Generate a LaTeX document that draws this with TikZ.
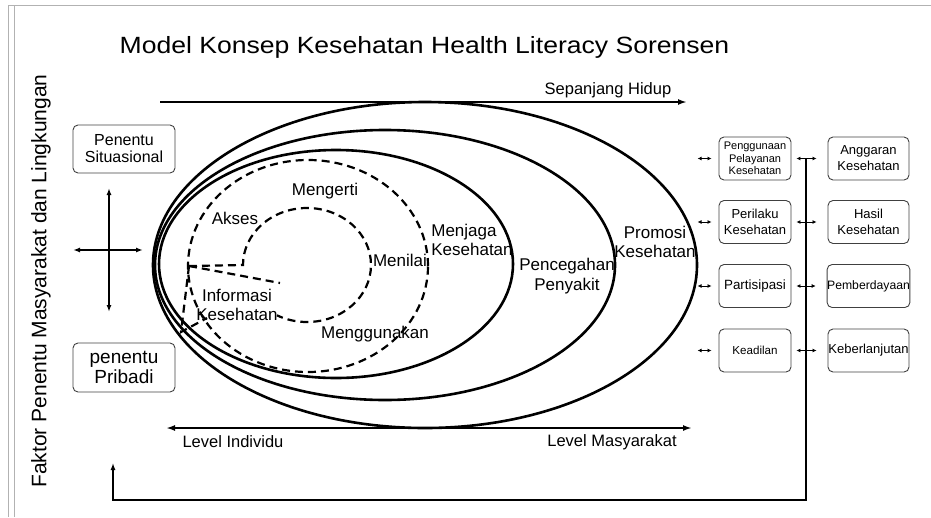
\documentclass[tikz,border=0pt]{standalone}
\usepackage{fontspec}
\setmainfont{Liberation Sans}
\newfontfamily\titlefont[FakeStretch=1.13]{Liberation Sans}
\usetikzlibrary{arrows.meta}

\tikzset{
	ring/.style={line width=2.6pt},
	dashring/.style={line width=2.2pt, dash pattern=on 8pt off 5pt},
	lbl/.style={font=\fontsize{17}{18.5}\selectfont, align=center, inner sep=0pt},
	sidebox/.style={draw=black!75, rounded corners=5pt, line width=.9pt, minimum width=102pt, minimum height=48pt, align=center, inner sep=1pt},
	outbox/.style={draw=black!75, rounded corners=5pt, line width=.9pt, minimum height=43pt, align=center, inner sep=0pt, font=\fontsize{13}{16}\selectfont},
	tinyarrow/.style={line width=.8pt, {Latex[length=4pt,width=4pt]}-{Latex[length=4pt,width=4pt]}},
	bigarrow/.style={line width=2.2pt},
}

\begin{document}
\begin{tikzpicture}[x=1pt,y=-1pt]
				\useasboundingbox (0,0) rectangle (931,517);
				\draw[black!30, line width=1pt] (8,517) -- (8,5) -- (931,5);
				\draw[black!30, line width=1pt] (14,517) -- (14,5);
				
				\node[anchor=base, font=\titlefont\fontsize{23.5}{28}\selectfont] (judul) at (424.5,53) {Model Konsep Kesehatan Health Literacy Sorensen};
				\node[rotate=90, font=\fontsize{21}{24}\selectfont] (faktor) at (41,281) {Faktor Penentu Masyarakat dan Lingkungan};
				
				% ellipses
				\coordinate (promosi) at (425,265);
				\coordinate (cegah) at (385,265);
				\coordinate (jaga) at (336,264);
				\coordinate (paham) at (308,266);
				\coordinate (nilai) at (307,265);
				\coordinate (pojok) at (189,266);
				
				\draw[ring] (promosi) ellipse[x radius=272pt, y radius=163pt];
				\draw[ring] (cegah) ellipse[x radius=230pt, y radius=135pt];
				\draw[ring] (jaga) ellipse[x radius=177pt, y radius=114pt];
				\draw[dashring] (paham) ellipse[x radius=120pt, y radius=106pt];
				\draw[dashring] (pojok) -- ([xshift=-64pt]nilai) arc[start angle=180, end angle=-118, x radius=64pt, y radius=57pt];
				\draw[dashring] (pojok) -- (280,283);
				\draw[dashring] (pojok) -- (181,332) -- (207,318);
				
				\node[lbl] (mengerti) at (325,191) {Mengerti};
				\node[lbl] (akses) at (235,218) {Akses};
				\node[lbl] (menilai) at (400,260) {Menilai};
				\node[lbl] (informasi) at (237,305) {Informasi\\Kesehatan};
				\node[lbl] (menggunakan) at (375,334) {Menggunakan};
				\node[lbl, align=left] (menjaga) at (472,240) {Menjaga\\Kesehatan};
				\node[lbl, font=\fontsize{17}{20}\selectfont] (pencegahan) at (567,276) {Pencegahan\\Penyakit};
				\node[lbl] (promosilbl) at (655,242) {Promosi\\Kesehatan};
				
				% axes
				\coordinate (hidup0) at (160,102);
				\coordinate (hidup1) at (687,102);
				\coordinate (level0) at (166,428);
				\coordinate (level1) at (692,428);
				\draw[bigarrow, -{Latex[length=9pt,width=6pt]}] (hidup0) -- (hidup1);
				\draw[bigarrow, {Latex[length=9pt,width=6pt]}-{Latex[length=9pt,width=6pt]}] (level0) -- (level1);
				\node[lbl, font=\fontsize{16.5}{18}\selectfont] (sepanjang) at (608,90) {Sepanjang Hidup};
				\node[lbl, font=\fontsize{16.5}{18}\selectfont] (individu) at (233,442) {Level Individu};
				\node[lbl, font=\fontsize{16.5}{18}\selectfont] (masyarakat) at (612,442) {Level Masyarakat};
				
				% left side
				\node[sidebox, font=\fontsize{16}{17}\selectfont] (situasi) at (124,149) {Penentu\\Situasional};
				\node[sidebox, font=\fontsize{19}{20}\selectfont, minimum height=49pt] (pribadi) at (124,367.5) {penentu\\Pribadi};
				\coordinate (silang) at (109,250);
				\draw[line width=1.4pt, {Latex[length=7pt,width=5pt]}-{Latex[length=7pt,width=5pt]}] ([yshift=62pt]silang) -- ([yshift=-62pt]silang);
				\draw[line width=1.4pt, {Latex[length=7pt,width=5pt]}-{Latex[length=7pt,width=5pt]}] ([xshift=-36pt]silang) -- ([xshift=34pt]silang);
				
				% right side
				\node[outbox, minimum width=72pt, font=\fontsize{11}{12.5}\selectfont] (kiri1) at (755,158.5) {Penggunaan\\Pelayanan\\Kesehatan};
				\node[outbox, minimum width=72pt] (kiri2) at (755,222) {Perilaku\\Kesehatan};
				\node[outbox, minimum width=72pt, font=\fontsize{13.4}{16}\selectfont] (kiri3) at (755,286) {Partisipasi};
				\node[outbox, minimum width=72pt, font=\fontsize{11.6}{14}\selectfont] (kiri4) at (755,350.5) {Keadilan};
				\node[outbox, minimum width=81pt] (kanan1) at (868.5,158.5) {Anggaran\\Kesehatan};
				\node[outbox, minimum width=81pt] (kanan2) at (868.5,222) {Hasil\\Kesehatan};
				\node[outbox, minimum width=81pt, font=\fontsize{12.2}{14}\selectfont] (kanan3) at (868.5,286) {Pemberdayaan};
				\node[outbox, minimum width=81pt] (kanan4) at (868.5,350.5) {Keberlanjutan};
				\foreach \r in {1,...,4}{
					\draw[tinyarrow] ([xshift=-21pt]kiri\r.west) -- ([xshift=-7pt]kiri\r.west);
					\draw[tinyarrow] ([xshift=5pt]kiri\r.east) -- ([xshift=-11pt]kanan\r.west);
				}
				
				% feedback
				\coordinate (balik0) at (806,158.5);
				\coordinate (balik1) at (806,500);
				\coordinate (balik2) at (113,500);
				\coordinate (balik3) at (113,463);
				\draw[line width=1.3pt, -{Latex[length=7pt,width=5pt]}] (balik0) -- (balik1) -- (balik2) -- (balik3);
\end{tikzpicture}
\end{document}
